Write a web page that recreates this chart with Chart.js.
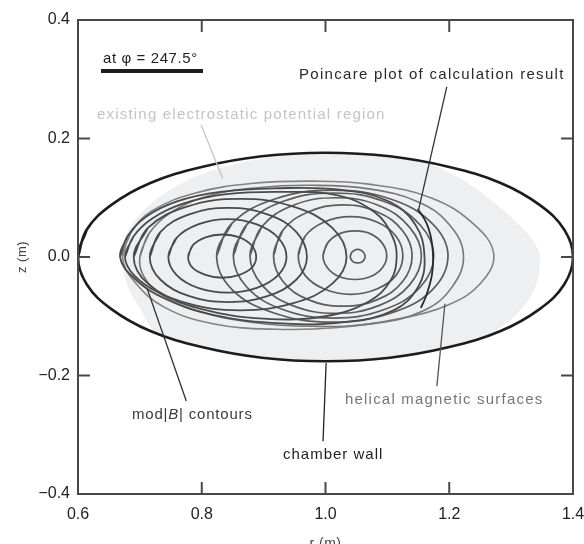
<!DOCTYPE html>
<html>
<head>
<meta charset="utf-8">
<script src="https://cdn.jsdelivr.net/npm/chart.js@4.4.1/dist/chart.umd.min.js"></script>
<style>
  html, body { margin: 0; padding: 0; background: #fff; }
</style>
</head>
<body>
<canvas id="chart" width="584" height="544"></canvas>
<script>
const FONT = '"Liberation Sans", Arial, sans-serif';

// axis ticks
const rTicks = [0.6, 0.8, 1.0, 1.2, 1.4];
const zTicks = [-0.4, -0.2, 0.0, 0.2, 0.4];

// [r, z] in metres
const chamberWall = [[0.600,0.000],[0.614,0.046],[0.654,0.088],[0.717,0.125],[0.800,0.152],[0.897,0.170],[1.000,0.176],[1.104,0.170],[1.200,0.152],[1.283,0.125],[1.346,0.088],[1.386,0.046],[1.400,0.000],[1.386,-0.046],[1.346,-0.088],[1.283,-0.125],[1.200,-0.152],[1.104,-0.170],[1.000,-0.176],[0.897,-0.170],[0.800,-0.152],[0.717,-0.125],[0.654,-0.088],[0.614,-0.046]];

const potentialRegion = [[0.672,0.000],[0.679,0.040],[0.711,0.083],[0.765,0.123],[0.830,0.150],[0.926,0.171],[1.000,0.176],[1.104,0.170],[1.170,0.156],[1.225,0.128],[1.272,0.092],[1.314,0.053],[1.340,0.020],[1.347,-0.005],[1.336,-0.058],[1.300,-0.105],[1.250,-0.137],[1.200,-0.152],[1.104,-0.170],[1.000,-0.176],[0.897,-0.170],[0.800,-0.152],[0.728,-0.129],[0.700,-0.086],[0.679,-0.046]];

const modB1 = [[0.778,0.000],[0.785,0.019],[0.806,0.033],[0.833,0.038],[0.861,0.033],[0.881,0.019],[0.888,0.000],[0.881,-0.018],[0.861,-0.030],[0.833,-0.035],[0.806,-0.030],[0.785,-0.018]];
const modB2 = [[0.746,0.000],[0.759,0.032],[0.794,0.055],[0.842,0.064],[0.889,0.055],[0.924,0.032],[0.937,0.000],[0.924,-0.030],[0.889,-0.052],[0.842,-0.060],[0.794,-0.052],[0.759,-0.030]];
const modB3 = [[0.716,0.000],[0.733,0.042],[0.780,0.072],[0.843,0.083],[0.906,0.072],[0.953,0.042],[0.970,0.000],[0.953,-0.038],[0.906,-0.066],[0.843,-0.076],[0.780,-0.066],[0.733,-0.038]];
const modB4 = [[0.690,0.000],[0.713,0.049],[0.776,0.085],[0.862,0.098],[0.948,0.085],[1.011,0.049],[1.034,0.000],[1.011,-0.045],[0.948,-0.078],[0.862,-0.090],[0.776,-0.078],[0.713,-0.045]];
const modB5 = [[0.676,0.000],[0.690,0.035],[0.720,0.065],[0.770,0.090],[0.840,0.106],[0.930,0.110],[1.020,0.104],[1.080,0.075],[1.108,0.035],[1.115,0.000],[1.105,-0.040],[1.070,-0.075],[1.000,-0.100],[0.900,-0.104],[0.800,-0.088],[0.730,-0.060],[0.690,-0.030]];
const modB6 = [[0.668,0.000],[0.680,0.035],[0.710,0.068],[0.760,0.094],[0.830,0.110],[0.920,0.116],[1.020,0.114],[1.100,0.095],[1.145,0.055],[1.160,0.000],[1.150,-0.050],[1.110,-0.090],[1.030,-0.110],[0.930,-0.112],[0.820,-0.098],[0.740,-0.070],[0.690,-0.035]];

const helical1 = [[1.040,0.001],[1.042,0.007],[1.046,0.011],[1.052,0.013],[1.058,0.011],[1.062,0.007],[1.064,0.001],[1.062,-0.005],[1.058,-0.009],[1.052,-0.010],[1.046,-0.009],[1.042,-0.005]];
const helical2 = [[0.996,0.002],[1.003,0.023],[1.022,0.039],[1.048,0.044],[1.073,0.039],[1.092,0.023],[1.099,0.002],[1.092,-0.018],[1.073,-0.033],[1.048,-0.038],[1.022,-0.033],[1.003,-0.018]];
const helical3 = [[0.956,0.002],[0.967,0.035],[0.998,0.059],[1.041,0.068],[1.083,0.059],[1.114,0.035],[1.125,0.002],[1.114,-0.031],[1.083,-0.054],[1.041,-0.063],[0.998,-0.054],[0.967,-0.031]];
const helical4 = [[0.916,0.002],[0.931,0.045],[0.972,0.076],[1.028,0.088],[1.084,0.076],[1.125,0.044],[1.140,0.002],[1.125,-0.041],[1.084,-0.072],[1.028,-0.083],[0.972,-0.072],[0.931,-0.041]];
const helical5 = [[0.878,0.002],[0.897,0.051],[0.947,0.087],[1.017,0.100],[1.086,0.087],[1.136,0.050],[1.155,0.002],[1.136,-0.047],[1.086,-0.082],[1.017,-0.095],[0.947,-0.082],[0.897,-0.047]];
const helical6 = [[0.851,0.002],[0.873,0.055],[0.932,0.094],[1.013,0.108],[1.094,0.094],[1.153,0.054],[1.175,0.002],[1.153,-0.051],[1.094,-0.089],[1.013,-0.103],[0.932,-0.089],[0.873,-0.051]];
const helical7 = [[0.824,0.002],[0.849,0.057],[0.918,0.098],[1.011,0.113],[1.105,0.098],[1.173,0.056],[1.198,0.002],[1.173,-0.055],[1.105,-0.095],[1.011,-0.110],[0.918,-0.095],[0.849,-0.055]];
const helical8 = [[0.700,0.000],[0.715,0.040],[0.750,0.075],[0.810,0.103],[0.890,0.117],[0.980,0.121],[1.070,0.115],[1.150,0.093],[1.200,0.055],[1.223,0.003],[1.205,-0.050],[1.160,-0.090],[1.080,-0.112],[0.980,-0.117],[0.880,-0.110],[0.790,-0.090],[0.730,-0.060],[0.705,-0.030]];
const helical9 = [[0.672,0.000],[0.685,0.040],[0.720,0.078],[0.790,0.108],[0.880,0.124],[0.980,0.128],[1.070,0.123],[1.170,0.100],[1.240,0.055],[1.272,0.004],[1.250,-0.045],[1.200,-0.080],[1.120,-0.104],[1.020,-0.119],[0.920,-0.122],[0.820,-0.113],[0.740,-0.085],[0.690,-0.040]];

const poincare = [[1.149,0.081],[1.160,0.064],[1.167,0.047],[1.172,0.024],[1.174,-0.006],[1.172,-0.030],[1.168,-0.048],[1.161,-0.070],[1.154,-0.086]];

// leader lines, [r, z] ends
const leaders = [
  { from: [0.799, 0.223], to: [0.834, 0.132], color: '#c2c2c2' },
  { from: [1.196, 0.287], to: [1.150, 0.078], color: '#333' },
  { from: [0.712, -0.054], to: [0.775, -0.243], color: '#333' },
  { from: [1.001, -0.179], to: [0.996, -0.311], color: '#222' },
  { from: [1.193, -0.079], to: [1.180, -0.218], color: '#555' }
];

function closed(pts) {
  return pts.concat([pts[0], pts[1]]);
}

function curve(pts, color, width, order) {
  return {
    data: closed(pts),
    borderColor: color,
    borderWidth: width,
    tension: 0.4,
    fill: false,
    order
  };
}

const datasets = [
  curve(chamberWall, '#1c1c1c', 2.6, 0),
  { data: poincare, borderColor: '#2b2b2b', borderWidth: 1.8, tension: 0.3, fill: false, order: 1 },
  ...[modB1, modB2, modB3, modB4, modB5, modB6].map(p => curve(p, '#4a4a4a', 1.8, 2)),
  ...[helical1, helical2, helical3, helical4, helical5, helical6, helical7].map(p => curve(p, '#5c5c5c', 1.7, 3)),
  curve(helical8, '#777', 1.6, 3),
  curve(helical9, '#828282', 1.6, 3),
  { data: closed(potentialRegion), borderWidth: 0, backgroundColor: '#eeeff1', fill: 'shape', tension: 0.4, order: 9 }
];

function text(ctx, str, x, y, color, size, spacing) {
  ctx.font = `${size}px ${FONT}`;
  ctx.fillStyle = color;
  ctx.letterSpacing = spacing + 'px';
  ctx.fillText(str, x, y);
  return ctx.measureText(str).width;
}

const notes = {
  id: 'notes',
  afterDatasetsDraw(c) {
    const { ctx, chartArea: a, scales: { x, y } } = c;
    const line = (x1, y1, x2, y2) => { ctx.beginPath(); ctx.moveTo(x1, y1); ctx.lineTo(x2, y2); ctx.stroke(); };
    ctx.save();

    ctx.lineWidth = 1.3;
    leaders.forEach(l => {
      ctx.strokeStyle = l.color;
      line(x.getPixelForValue(l.from[0]), y.getPixelForValue(l.from[1]),
           x.getPixelForValue(l.to[0]), y.getPixelForValue(l.to[1]));
    });

    // frame + inward ticks
    ctx.strokeStyle = '#484848';
    ctx.lineWidth = 2;
    ctx.strokeRect(a.left, a.top, a.right - a.left, a.bottom - a.top);
    rTicks.forEach(v => {
      const X = x.getPixelForValue(v);
      line(X, a.bottom, X, a.bottom - 12);
      line(X, a.top, X, a.top + 12);
    });
    zTicks.forEach(v => {
      const Y = y.getPixelForValue(v);
      line(a.left, Y, a.left + 12, Y);
      line(a.right, Y, a.right - 12, Y);
    });

    ctx.textBaseline = 'alphabetic';
    ctx.textAlign = 'left';
    text(ctx, 'at \u03c6 = 247.5\u00b0', 103, 63, '#1e1e1e', 15, 0.6);
    ctx.fillStyle = '#1e1e1e';
    ctx.fillRect(101, 69, 102, 4);

    text(ctx, 'Poincare plot of calculation result', 299, 79, '#2a2a2a', 15, 1.3);
    text(ctx, 'existing electrostatic potential region', 97, 119, '#c4c4c4', 15, 1.2);
    text(ctx, 'helical magnetic surfaces', 345, 404, '#767676', 15, 1.2);
    text(ctx, 'chamber wall', 283, 459, '#1e1e1e', 15, 1.0);

    let px = 132;
    px += text(ctx, 'mod|', px, 419, '#3a3a3a', 15, 0.8);
    ctx.font = `italic 15px ${FONT}`;
    ctx.fillText('B', px, 419);
    px += ctx.measureText('B').width;
    text(ctx, '| contours', px, 419, '#3a3a3a', 15, 0.8);

    ctx.textAlign = 'center';
    text(ctx, 'r (m)', (a.left + a.right) / 2, 548, '#444', 14, 0.5);
    ctx.translate(22, (a.top + a.bottom) / 2);
    ctx.rotate(-Math.PI / 2);
    ctx.textBaseline = 'middle';
    text(ctx, 'z (m)', 0, 0, '#444', 13, 0.5);

    ctx.restore();
  }
};

const fmt = v => (v < 0 ? '\u2212' : '') + Math.abs(v).toFixed(1);

new Chart(document.getElementById('chart'), {
  type: 'scatter',
  data: { datasets },
  options: {
    responsive: false,
    animation: false,
    events: [],
    devicePixelRatio: 1,
    layout: { padding: { top: 20, right: 11, left: 0, bottom: 0 } },
    elements: { point: { radius: 0, hitRadius: 0 } },
    showLine: true,
    plugins: { legend: { display: false }, tooltip: { enabled: false } },
    scales: {
      x: {
        type: 'linear',
        min: 0.6, max: 1.4,
        grid: { display: false, drawTicks: false },
        border: { display: false },
        afterBuildTicks: s => { s.ticks = rTicks.map(v => ({ value: v })); },
        afterFit: s => { s.height = 50; s.paddingLeft = 0; s.paddingRight = 0; },
        ticks: { padding: 11, color: '#222', font: { family: FONT, size: 16 }, callback: fmt, maxRotation: 0, autoSkip: false }
      },
      y: {
        type: 'linear',
        min: -0.4, max: 0.4,
        grid: { display: false, drawTicks: false },
        border: { display: false },
        afterBuildTicks: s => { s.ticks = zTicks.map(v => ({ value: v })); },
        afterFit: s => { s.width = 78; s.paddingTop = 0; s.paddingBottom = 0; },
        ticks: { padding: 8, color: '#222', font: { family: FONT, size: 16 }, callback: fmt, autoSkip: false }
      }
    }
  },
  plugins: [notes]
});
</script>
</body>
</html>
